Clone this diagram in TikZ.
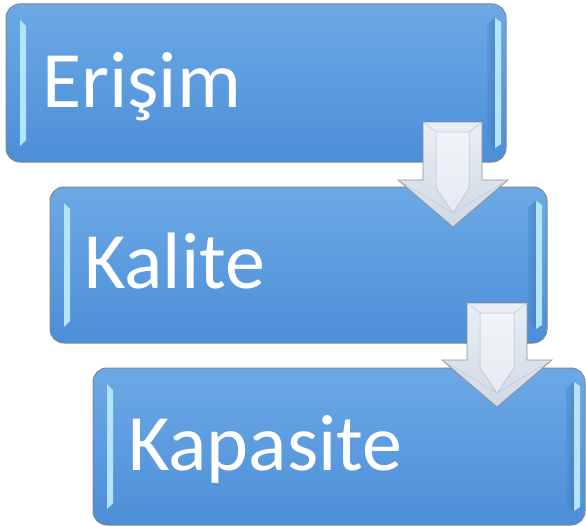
\documentclass[tikz,border=0pt]{standalone}
\usepackage{fontspec}
\setmainfont{Carlito}
\definecolor{boxtop}{HTML}{6CA9E5}
\definecolor{boxbot}{HTML}{4C8ED8}
\definecolor{boxedge}{HTML}{7D8796}
\definecolor{bevel}{HTML}{B4E4FA}
\definecolor{arrtop}{HTML}{E8EEF5}
\definecolor{arrbot}{HTML}{CFD9E6}
\definecolor{arredge}{HTML}{8C9096}
\tikzset{
  boxnode/.style={draw=boxedge, line width=1pt, rounded corners=14pt,
    top color=boxtop, bottom color=boxbot, inner sep=0pt},
  label/.style={text=white, font=\fontsize{80}{80}\selectfont, inner sep=0pt, anchor=base west},
  bev/.style={fill=bevel, draw=none},
  bevdark/.style={left color=boxbot, right color=boxbot!80!black, draw=none, opacity=0.5},
  arrowshape/.style={draw=arredge, line width=0.8pt, top color=arrtop, bottom color=arrbot, line join=miter},
  arrowinner/.style={draw=arredge!60, line width=0.5pt, fill=white, fill opacity=0.45},
}
\begin{document}
\begin{tikzpicture}[x=1pt,y=-1pt]
\useasboundingbox (0,0) rectangle (586,527);
% boxes
\foreach \n/\xa/\ya/\xb/\yb in {b1/6/4/506/162, b2/50/187/547/343, b3/93/368/585/525}{
  \path[boxnode] (\xa,\ya) rectangle (\xb,\yb);
  \fill[bev] (\xa+14,\ya+16) -- (\xa+20,\ya+22) -- (\xa+20,\yb-22) -- (\xa+14,\yb-16) -- cycle;
  \path[bevdark] (\xb-19,\ya+20) -- (\xb-11,\ya+14) -- (\xb-11,\yb-14) -- (\xb-19,\yb-20) -- cycle;
  \fill[bev] (\xb-11,\ya+14) -- (\xb-5,\ya+18) -- (\xb-5,\yb-18) -- (\xb-11,\yb-14) -- cycle;
}
\node[label] (t1) at (42,107) {Erişim};
\node[label] (t2) at (84,288) {Kalite};
\node[label] (t3) at (128,470) {Kapasite};
% arrows
\foreach \xl/\xr/\yt/\yh/\wl/\wr/\ytip in {423/482/122/180/398/508/227, 467/527/303/360/442/552/407}{
  \path[arrowshape] (\xl,\yt) -- (\xr,\yt) -- (\xr,\yh) -- (\wr,\yh) -- ({(\wl+\wr)/2},\ytip) -- (\wl,\yh) -- (\xl,\yh) -- cycle;
  \path[arrowinner] (\xl+13,\yt+10) -- (\xr-13,\yt+10) -- (\xr-13,\yh+8) -- ({(\wl+\wr)/2},\ytip-14) -- (\xl+13,\yh+8) -- cycle;
  \draw[arredge!50, line width=0.5pt] (\xl,\yt) -- (\xl+13,\yt+10) (\xr,\yt) -- (\xr-13,\yt+10)
     (\wl,\yh) -- ({(\wl+\wr)/2},\ytip-14) -- (\wr,\yh);
}
\end{tikzpicture}
\end{document}
